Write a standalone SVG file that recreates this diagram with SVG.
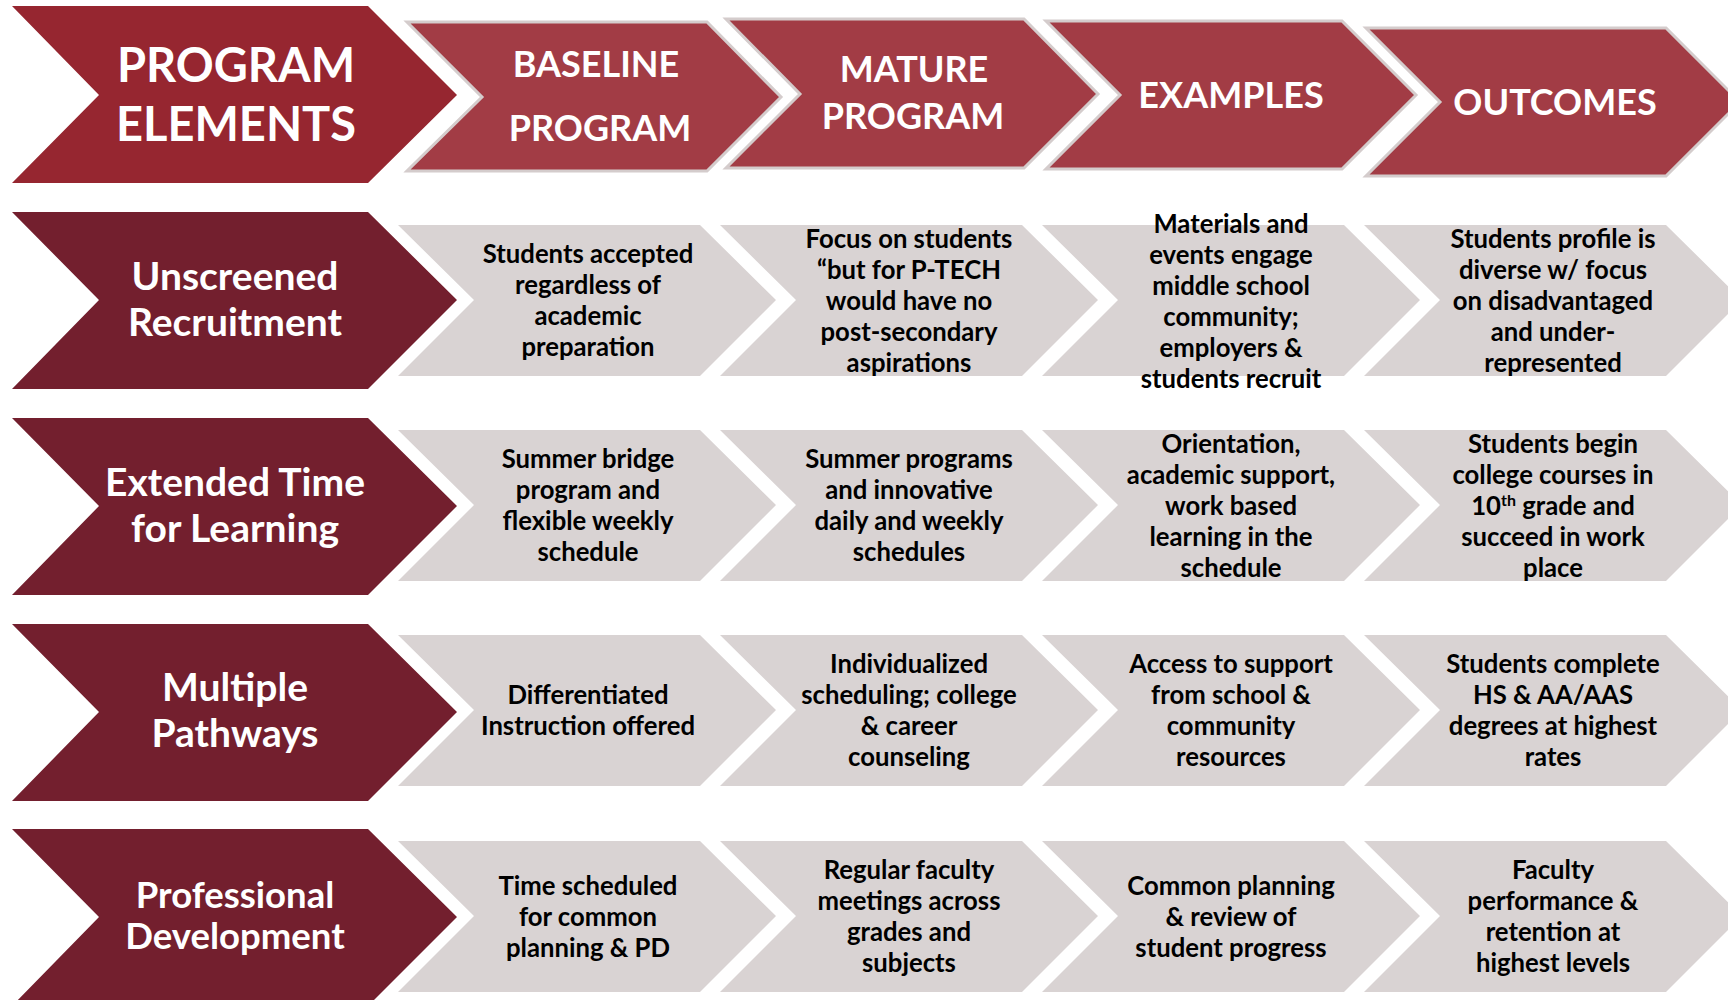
<svg xmlns="http://www.w3.org/2000/svg" width="1728" height="1000" viewBox="0 0 1728 1000">
<style>
.hdr1{fill:#962630}
.hdr{fill:#A23C45;stroke:#D4CCCC;stroke-width:3}
.elem{fill:#731F2E}
.cell{fill:#D9D3D3}
text{font-family:Lato,"Open Sans","Liberation Sans",sans-serif;font-weight:700;text-anchor:middle;dominant-baseline:central}
.th{fill:#fff;font-size:36px}
.th1{fill:#fff;font-size:47px}
.te{fill:#fff;font-size:39px}
.te4{fill:#fff;font-size:36.5px}
.tc{fill:#000;font-size:25.7px}
</style>
<rect width="1728" height="1000" fill="#fff"/>
<g id="header-program-elements"><polygon class="hdr1" points="12,6 368,6 457,95 368,183 12,183 99,95"/><text class="th1" x="236" y="64">PROGRAM</text><text class="th1" x="236" y="123">ELEMENTS</text></g>
<g id="header-baseline"><polygon class="hdr" points="407,22 707,22 781,97 707,171 407,171 482,97"/><text class="th" x="596" y="63">BASELINE</text><text class="th" x="600" y="127">PROGRAM</text></g>
<g id="header-mature"><polygon class="hdr" points="726,19 1024,19 1098,94 1024,168 726,168 800,94"/><text class="th" x="914" y="68">MATURE</text><text class="th" x="913" y="115">PROGRAM</text></g>
<g id="header-examples"><polygon class="hdr" points="1046,21 1342,21 1416,95 1342,169 1046,169 1120,95"/><text class="th" x="1231" y="94">EXAMPLES</text></g>
<g id="header-outcomes"><polygon class="hdr" points="1366,28 1666,28 1740,102 1666,176 1366,176 1440,102"/><text class="th" x="1555" y="101">OUTCOMES</text></g>

<g id="row1-element"><polygon class="elem" points="12,212 368,212 457,300 368,389 12,389 99,300"/><text class="te" x="235" y="275">Unscreened</text><text class="te" x="235" y="321">Recruitment</text></g>
<g id="row1-baseline"><polygon class="cell" points="398,225 700,225 776,300 700,376 398,376 474,300"/><text class="tc" x="588" y="253">Students accepted</text><text class="tc" x="588" y="284">regardless of</text><text class="tc" x="588" y="315">academic</text><text class="tc" x="588" y="346">preparation</text></g>
<g id="row1-mature"><polygon class="cell" points="720,225 1022,225 1098,300 1022,376 720,376 796,300"/><text class="tc" x="909" y="237.5">Focus on students</text><text class="tc" x="909" y="268.5">“but for P-TECH</text><text class="tc" x="909" y="299.5">would have no</text><text class="tc" x="909" y="330.5">post-secondary</text><text class="tc" x="909" y="361.5">aspirations</text></g>
<g id="row1-examples"><polygon class="cell" points="1042,225 1344,225 1420,300 1344,376 1042,376 1118,300"/><text class="tc" x="1231" y="222.5">Materials and</text><text class="tc" x="1231" y="253.5">events engage</text><text class="tc" x="1231" y="284.5">middle school</text><text class="tc" x="1231" y="315.5">community;</text><text class="tc" x="1231" y="346.5">employers &amp;</text><text class="tc" x="1231" y="377.5">students recruit</text></g>
<g id="row1-outcomes"><polygon class="cell" points="1364,225 1666,225 1742,300 1666,376 1364,376 1440,300"/><text class="tc" x="1553" y="237.5">Students profile is</text><text class="tc" x="1553" y="268.5">diverse w/ focus</text><text class="tc" x="1553" y="299.5">on disadvantaged</text><text class="tc" x="1553" y="330.5">and under-</text><text class="tc" x="1553" y="361.5">represented</text></g>

<g id="row2-element"><polygon class="elem" points="12,418 368,418 457,506 368,595 12,595 99,506"/><text class="te" x="235" y="481">Extended Time</text><text class="te" x="235" y="527">for Learning</text></g>
<g id="row2-baseline"><polygon class="cell" points="398,430 700,430 776,505 700,581 398,581 474,505"/><text class="tc" x="588" y="458">Summer bridge</text><text class="tc" x="588" y="489">program and</text><text class="tc" x="588" y="520">flexible weekly</text><text class="tc" x="588" y="551">schedule</text></g>
<g id="row2-mature"><polygon class="cell" points="720,430 1022,430 1098,505 1022,581 720,581 796,505"/><text class="tc" x="909" y="458">Summer programs</text><text class="tc" x="909" y="489">and innovative</text><text class="tc" x="909" y="520">daily and weekly</text><text class="tc" x="909" y="551">schedules</text></g>
<g id="row2-examples"><polygon class="cell" points="1042,430 1344,430 1420,505 1344,581 1042,581 1118,505"/><text class="tc" x="1231" y="442.5">Orientation,</text><text class="tc" x="1231" y="473.5">academic support,</text><text class="tc" x="1231" y="504.5">work based</text><text class="tc" x="1231" y="535.5">learning in the</text><text class="tc" x="1231" y="566.5">schedule</text></g>
<g id="row2-outcomes"><polygon class="cell" points="1364,430 1666,430 1742,505 1666,581 1364,581 1440,505"/><text class="tc" x="1553" y="442.5">Students begin</text><text class="tc" x="1553" y="473.5">college courses in</text><text class="tc" x="1553" y="504.5">10<tspan font-size="16" dy="-6">th</tspan><tspan dy="6"> grade and</tspan></text><text class="tc" x="1553" y="535.5">succeed in work</text><text class="tc" x="1553" y="566.5">place</text></g>

<g id="row3-element"><polygon class="elem" points="12,624 368,624 457,712 368,801 12,801 99,712"/><text class="te" x="235" y="686">Multiple</text><text class="te" x="235" y="732">Pathways</text></g>
<g id="row3-baseline"><polygon class="cell" points="398,635 700,635 776,710 700,786 398,786 474,710"/><text class="tc" x="588" y="694">Differentiated</text><text class="tc" x="588" y="725">Instruction offered</text></g>
<g id="row3-mature"><polygon class="cell" points="720,635 1022,635 1098,710 1022,786 720,786 796,710"/><text class="tc" x="909" y="663">Individualized</text><text class="tc" x="909" y="694">scheduling; college</text><text class="tc" x="909" y="725">&amp; career</text><text class="tc" x="909" y="756">counseling</text></g>
<g id="row3-examples"><polygon class="cell" points="1042,635 1344,635 1420,710 1344,786 1042,786 1118,710"/><text class="tc" x="1231" y="663">Access to support</text><text class="tc" x="1231" y="694">from school &amp;</text><text class="tc" x="1231" y="725">community</text><text class="tc" x="1231" y="756">resources</text></g>
<g id="row3-outcomes"><polygon class="cell" points="1364,635 1666,635 1742,710 1666,786 1364,786 1440,710"/><text class="tc" x="1553" y="663">Students complete</text><text class="tc" x="1553" y="694">HS &amp; AA/AAS</text><text class="tc" x="1553" y="725">degrees at highest</text><text class="tc" x="1553" y="756">rates</text></g>

<g id="row4-element"><polygon class="elem" points="12,829 368,829 457,917 368,1006 12,1006 99,917"/><text class="te4" x="235" y="894">Professional</text><text class="te4" x="235" y="935">Development</text></g>
<g id="row4-baseline"><polygon class="cell" points="398,841 700,841 776,916 700,992 398,992 474,916"/><text class="tc" x="588" y="884.5">Time scheduled</text><text class="tc" x="588" y="915.5">for common</text><text class="tc" x="588" y="946.5">planning &amp; PD</text></g>
<g id="row4-mature"><polygon class="cell" points="720,841 1022,841 1098,916 1022,992 720,992 796,916"/><text class="tc" x="909" y="869">Regular faculty</text><text class="tc" x="909" y="900">meetings across</text><text class="tc" x="909" y="931">grades and</text><text class="tc" x="909" y="962">subjects</text></g>
<g id="row4-examples"><polygon class="cell" points="1042,841 1344,841 1420,916 1344,992 1042,992 1118,916"/><text class="tc" x="1231" y="884.5">Common planning</text><text class="tc" x="1231" y="915.5">&amp; review of</text><text class="tc" x="1231" y="946.5">student progress</text></g>
<g id="row4-outcomes"><polygon class="cell" points="1364,841 1666,841 1742,916 1666,992 1364,992 1440,916"/><text class="tc" x="1553" y="869">Faculty</text><text class="tc" x="1553" y="900">performance &amp;</text><text class="tc" x="1553" y="931">retention at</text><text class="tc" x="1553" y="962">highest levels</text></g>
</svg>
